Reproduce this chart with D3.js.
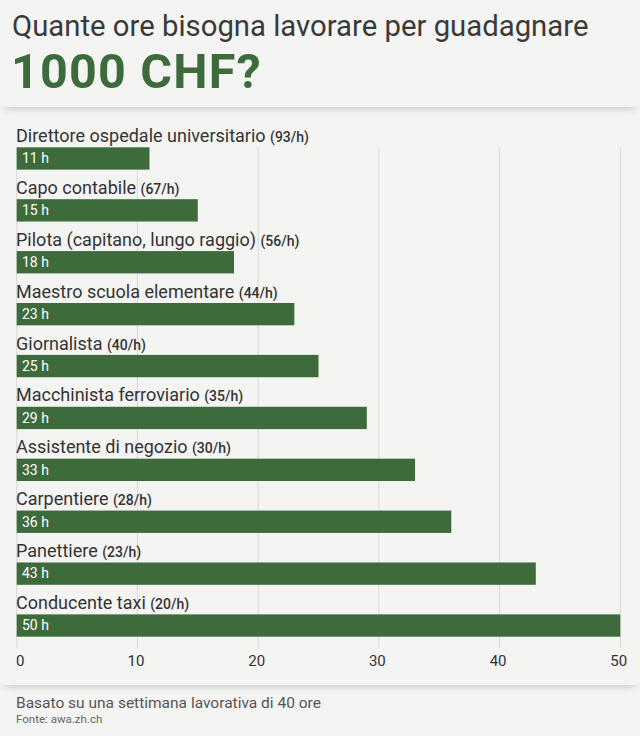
<!DOCTYPE html>
<html><head><meta charset="utf-8">
<script src="https://cdn.jsdelivr.net/npm/d3@7"></script>
<style>
html,body{margin:0;padding:0;background:#f4f4f2;width:640px;height:736px;overflow:hidden;font-family:Roboto,"Noto Sans",sans-serif;}
.card{position:absolute;left:0;width:640px;background:#f4f4f2;}
#head{top:0;height:107px;box-shadow:0 6px 8px -5px rgba(0,0,0,0.22);z-index:2;}
#body{top:108px;height:577px;box-shadow:0 6px 8px -5px rgba(0,0,0,0.22);z-index:1;}
svg{position:absolute;left:0;top:0;z-index:3;}
</style></head>
<body>
<div class="card" id="head"></div>
<div class="card" id="body"></div>
<script>
const categories = ["Direttore ospedale universitario","Capo contabile","Pilota (capitano, lungo raggio)","Maestro scuola elementare","Giornalista","Macchinista ferroviario","Assistente di negozio","Carpentiere","Panettiere","Conducente taxi"];
const wages = [93,67,56,44,40,35,30,28,23,20];
const hours = [11,15,18,23,25,29,33,36,43,50];
const ticks = [0,10,20,30,40,50];
const titleLine1 = "Quante ore bisogna lavorare per guadagnare";
const titleLine2 = "1000 CHF?";
const note = "Basato su una settimana lavorativa di 40 ore";
const source = "Fonte: awa.zh.ch";

const W=640,H=736;
const green="#3e6b3c", dark="#333333";
const svg=d3.select("body").append("svg").attr("width",W).attr("height",H);

svg.append("text").attr("x",12).attr("y",35.5).attr("fill","#3a3a3a")
  .style("font-size","29.3px").style("font-weight",400).text(titleLine1);
svg.append("text").attr("x",11).attr("y",87.8).attr("fill",green)
  .style("font-size","48.5px").style("font-weight",700).style("letter-spacing","1.2px").text(titleLine2);

const x=d3.scaleLinear().domain([0,50]).range([16.7,620.3]);
const y=d3.scaleBand().domain(categories).range([147.3,636.7]).paddingInner(0.57).paddingOuter(0);

// gridlines
svg.append("g").selectAll("line").data(ticks).join("line")
  .attr("x1",d=>x(d)).attr("x2",d=>x(d)).attr("y1",147).attr("y2",648)
  .attr("stroke","#d9d9d7").attr("stroke-width",1);

const rows=svg.append("g").selectAll("g").data(categories).join("g");
rows.append("rect").attr("x",x(0)).attr("y",d=>y(d))
  .attr("width",(d,i)=>x(hours[i])-x(0)).attr("height",y.bandwidth()).attr("fill",green);
const lab=rows.append("text").attr("x",16).attr("y",d=>y(d)-5.3).attr("fill",dark).style("font-size","18px");
lab.append("tspan").text(d=>d+" ");
lab.append("tspan").style("font-size","14px").style("font-weight",500).text((d,i)=>"("+wages[i]+"/h)");
rows.append("text").attr("x",22).attr("y",d=>y(d)+16).attr("fill","#ffffff").style("font-size","14px")
  .text((d,i)=>hours[i]+" h");

// axis
const ax=svg.append("g").attr("transform","translate(0,648)")
  .call(d3.axisBottom(x).tickValues(ticks).tickSize(0).tickPadding(7));
ax.select(".domain").remove();
ax.selectAll("text").attr("fill",dark).style("font-size","15px").style("font-family","Roboto,sans-serif")
  .attr("dx",(d)=>d===0?3:-2);

svg.append("text").attr("x",16).attr("y",708).attr("fill","#555").style("font-size","15.5px").text(note);
svg.append("text").attr("x",16).attr("y",723).attr("fill","#666").style("font-size","11.5px").text(source);
</script>
</body></html>
